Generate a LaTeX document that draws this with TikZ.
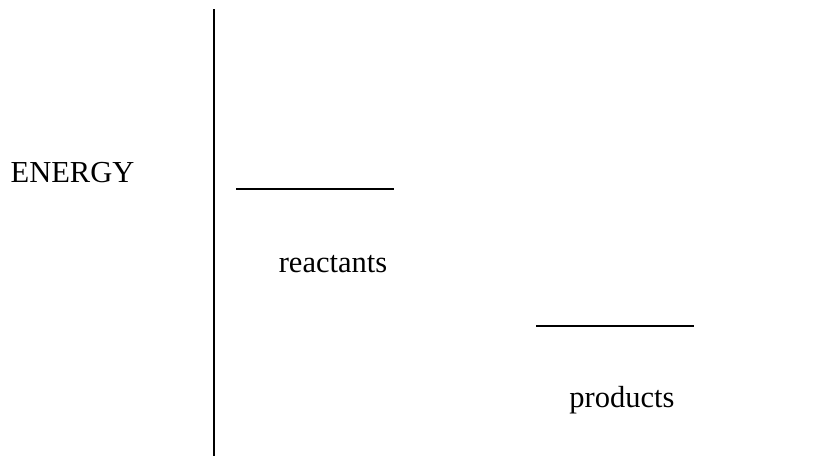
\documentclass[tikz,border=0pt]{standalone}
\usepackage{fontspec}
\setmainfont{Liberation Serif}
\begin{document}
\begin{tikzpicture}[x=1pt,y=-1pt,
  lbl/.style={inner sep=0pt,anchor=base,font=\fontsize{30.5}{36}\selectfont},
  ln/.style={line width=2pt,black}]
\useasboundingbox (0,0) rectangle (830,456);
\coordinate (axtop) at (214,9);
\coordinate (axbot) at (214,456);
\draw[ln] (axtop) -- (axbot);
\node[lbl] (energy) at (72.5,182) {ENERGY};
\coordinate (r1) at (236,189);
\coordinate (r2) at (394,189);
\draw[ln] (r1) -- (r2);
\node[lbl] (react) at (333,272) {reactants};
\coordinate (p1) at (536,326);
\coordinate (p2) at (694,326);
\draw[ln] (p1) -- (p2);
\node[lbl] (prod) at (622,407) {products};
\end{tikzpicture}
\end{document}
